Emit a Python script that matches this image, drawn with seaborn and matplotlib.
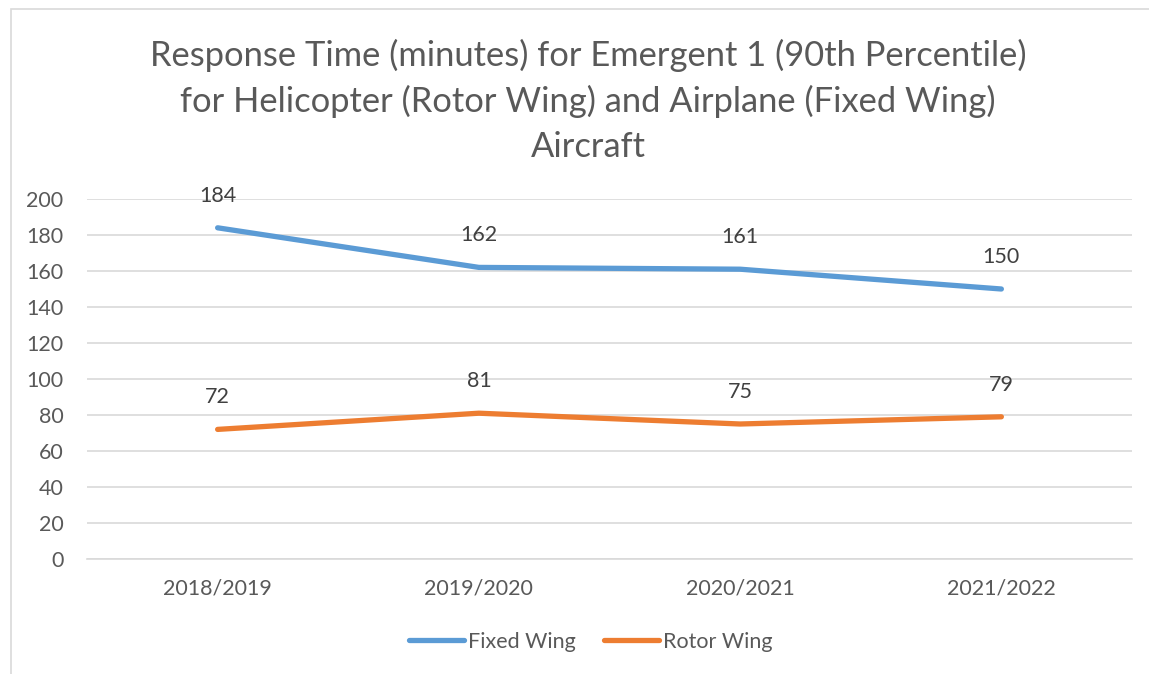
import matplotlib
matplotlib.use("Agg")
import matplotlib.pyplot as plt
import seaborn as sns
import pandas as pd
from matplotlib.patches import Rectangle

years = ["2018/2019", "2019/2020", "2020/2021", "2021/2022"]
fixed_wing = [184, 162, 161, 150]
rotor_wing = [72, 81, 75, 79]
series_names = ["Fixed Wing", "Rotor Wing"]
colors = ["#5B9BD5", "#ED7D31"]
title = ("Response Time (minutes) for Emergent 1 (90th Percentile)\n"
         "for Helicopter (Rotor Wing) and Airplane (Fixed Wing)\nAircraft")

df = pd.DataFrame({
    "Year": years * 2,
    "Minutes": fixed_wing + rotor_wing,
    "Series": [series_names[0]] * len(years) + [series_names[1]] * len(years),
})

sns.set_theme(style="white")
plt.rcParams["font.family"] = ["Lato", "DejaVu Sans"]

W, H = 1149, 674
fig = plt.figure(figsize=(W / 100, H / 100), dpi=100)
ax = fig.add_axes([87 / W, 1 - 559 / H, (1132 - 87) / W, (559 - 199) / H])

sns.lineplot(data=df, x="Year", y="Minutes", hue="Series", palette=colors,
             linewidth=3.8, ax=ax, sort=False, legend=True,
             solid_capstyle="round")

for vals in (fixed_wing, rotor_wing):
    for i, v in enumerate(vals):
        ax.annotate(f"{v}", (i, v), xytext=(0, 23), textcoords="offset points",
                    ha="center", va="center", fontsize=15.5, color="#404040")

ax.set_xlim(-0.5, len(years) - 0.5)
ax.set_ylim(0, 200)
ax.set_yticks(range(0, 201, 20))
ax.yaxis.grid(True, color="#D9D9D9", linewidth=1.2)
ax.set_axisbelow(True)
for s in ax.spines.values():
    s.set_visible(False)
ax.spines["bottom"].set_visible(True)
ax.spines["bottom"].set_color("#D9D9D9")
ax.spines["bottom"].set_linewidth(1.2)
ax.tick_params(axis="both", length=0, labelsize=15.5, colors="#595959")
ax.tick_params(axis="x", pad=14)
ax.tick_params(axis="y", pad=17)
ax.set_xlabel("")
ax.set_ylabel("")

leg = ax.legend(loc="center",
                bbox_to_anchor=(0.5 - 19 / 1045, (1 - 642 / H - (1 - 559 / H)) / ((559 - 199) / H)),
                ncol=2, frameon=False, fontsize=15.5, handlelength=2.55,
                handletextpad=0.2, columnspacing=1.3, labelcolor="#595959")
for line in leg.get_lines():
    line.set_linewidth(3.8)
    line.set_solid_capstyle("round")

fig.text(588 / W, 1 - 101 / H, title, ha="center", va="center",
         fontsize=24.8, color="#595959", linespacing=1.48)

fig.patches.append(Rectangle((11 / W, -0.1), 1.2, 1 - 9 / H + 0.1,
                             transform=fig.transFigure, fill=False,
                             edgecolor="#D9D9D9", linewidth=1.2))

fig.savefig("out.png", dpi=100, facecolor="white")
